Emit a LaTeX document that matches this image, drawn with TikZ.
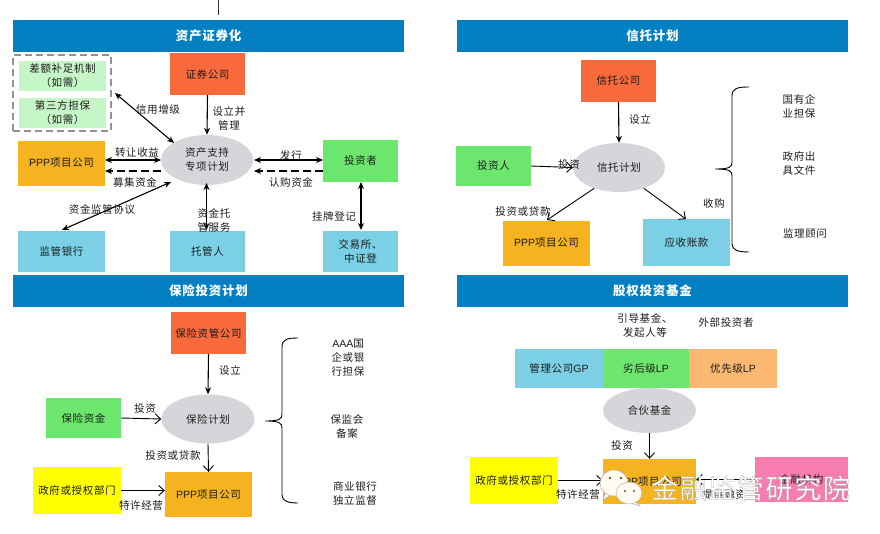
\documentclass[tikz,border=0pt]{standalone}
\usepackage{fontspec}
\setmainfont[LetterSpace=6]{Noto Sans CJK SC}
\newfontfamily\lat{Liberation Sans}
\usetikzlibrary{arrows.meta,shapes.geometric,calc}
\definecolor{hdr}{HTML}{0480C2}
\definecolor{red1}{HTML}{F8693C}
\definecolor{org1}{HTML}{F4B31F}
\definecolor{grn1}{HTML}{6DE66E}
\definecolor{blu1}{HTML}{7BD0E6}
\definecolor{lgr1}{HTML}{C6F5C8}
\definecolor{gry1}{HTML}{D6D6DA}
\definecolor{pnk1}{HTML}{F77DB0}
\definecolor{pch1}{HTML}{FBB873}
\definecolor{yel1}{HTML}{FFFF00}
\definecolor{txt1}{HTML}{1C1C1C}
\definecolor{crm1}{HTML}{FFFBEE}
\tikzset{
 x=1pt,y=-1pt,
 every node/.style={font=\fontsize{10.5}{14}\selectfont,text=txt1,align=center,inner sep=0pt},
 hd/.style={fill=hdr,text=white,font=\fontsize{12.5}{14}\selectfont\bfseries},
 ell/.style={ellipse,fill=gry1},
 ar/.style={-{Stealth[length=7pt,width=6pt]},line width=1.1pt,black},
 da/.style={{Stealth[length=7pt,width=6pt]}-{Stealth[length=7pt,width=6pt]},line width=1.1pt,black},
 op/.style={-{Straight Barb[length=5.5pt,width=10pt]},line width=0.9pt,black},
 das/.style={-{Stealth[length=7pt,width=6pt]},line width=1.1pt,black,dash pattern=on 8pt off 4pt},
 brc/.style={line width=0.9pt,black},
}
\begin{document}
\begin{tikzpicture}
\useasboundingbox (0,0) rectangle (880,533);
\fill[white] (0,0) rectangle (880,533);
\coordinate (topa) at (218,0); \coordinate (topb) at (218,15);
\draw[line width=0.9pt,black!80] (topa) -- (topb);
% headers
\node[hd,minimum width=391pt,minimum height=32pt] (h1) at (208.5,36) {资产证券化};
\node[hd,minimum width=391pt,minimum height=32pt] (h2) at (652.5,36) {信托计划};
\node[hd,minimum width=391pt,minimum height=32pt] (h3) at (208.5,291) {保险投资计划};
\node[hd,minimum width=391pt,minimum height=32pt] (h4) at (652.5,291) {股权投资基金};
% panel 1
\node[draw=gray!85,dash pattern=on 7pt off 4pt,line width=1.6pt,minimum width=98pt,minimum height=76pt] (dash) at (62,93) {};
\node[fill=lgr1,minimum width=87pt,minimum height=30pt] (g1) at (62.5,76) {差额补足机制\\（如需）};
\node[fill=lgr1,minimum width=87pt,minimum height=30pt] (g2) at (62.5,113) {第三方担保\\（如需）};
\node[fill=red1,minimum width=75pt,minimum height=42pt] (a1) at (207.5,74) {证券公司};
\node[ell,minimum width=92pt,minimum height=50pt] (e1) at (207,160) {资产支持\\专项计划};
\node[fill=org1,minimum width=87pt,minimum height=45pt] (a2) at (61.5,163) {{\lat PPP}项目公司};
\node[fill=grn1,minimum width=75pt,minimum height=42pt] (a3) at (360.5,161) {投资者};
\node[fill=blu1,minimum width=87pt,minimum height=41pt] (a4) at (61.5,251) {监管银行};
\node[fill=blu1,minimum width=75pt,minimum height=41pt] (a5) at (207.5,251) {托管人};
\node[fill=blu1,minimum width=75pt,minimum height=41pt] (a6) at (360.5,251) {交易所、\\中证登};
\coordinate (c1) at (115,93); \coordinate (c2) at (174,143);
\draw[da] (c1) -- (c2);
\draw[ar] (a1.south) -- (e1.north);
\coordinate (p1a) at (105,160); \coordinate (p1b) at (161,160);
\draw[da] (p1a) -- (p1b);
\coordinate (p2a) at (161,171); \coordinate (p2b) at (105,171);
\draw[das] (p2a) -- (p2b);
\coordinate (i1a) at (254,160); \coordinate (i1b) at (323,160);
\draw[da] (i1a) -- (i1b);
\coordinate (i2a) at (323,171); \coordinate (i2b) at (254,171);
\draw[das] (i2a) -- (i2b);
\coordinate (b1) at (171,182); \coordinate (b2) at (62,230);
\draw[da] (b1) -- (b2);
\coordinate (t1) at (206.5,183);\coordinate (t2) at (206.5,230);
\draw[da] (t1) -- (t2);
\coordinate (x1) at (361,182);\coordinate (x2) at (361,230);
\draw[da] (x1) -- (x2);
\node (l1) at (158,110) {信用增级};
\node (l2) at (229,118.5) {设立并\\管理};
\node (l3) at (137,153) {转让收益};
\node (l4) at (135,182) {募集资金};
\node (l5) at (102,209) {资金监管协议};
\node (l6) at (214,220.5) {资金托\\管服务};
\node (l7) at (291,156) {发行};
\node (l8) at (291,182) {认购资金};
\node (l9) at (334,217) {挂牌登记};
% panel 2
\node[fill=red1,minimum width=75pt,minimum height=42pt] (b1n) at (618.5,81) {信托公司};
\node[ell,minimum width=92pt,minimum height=49pt] (e2) at (619,167.5) {信托计划};
\node[fill=grn1,minimum width=75pt,minimum height=40pt] (b2n) at (493.5,166) {投资人};
\node[fill=org1,minimum width=87pt,minimum height=45pt] (b3n) at (546.5,243) {{\lat PPP}项目公司};
\node[fill=blu1,minimum width=87pt,minimum height=47pt] (b4n) at (686.5,242.5) {应收账款};
\draw[ar] (b1n.south) -- (e2.north);
\draw[op] (b2n.east) -- (e2.west);
\draw[op] (e2.220) -- (547,220);
\draw[op] (e2.320) -- (686,219);
\node (m1) at (640,119) {设立};
\node (m2) at (569,165) {投资};
\node (m3) at (523,212) {投资或贷款};
\node (m4) at (714,204) {收购};
\node (m5) at (799,106) {国有企\\业担保};
\node (m6) at (799,163) {政府出\\具文件};
\node (m7) at (805,234) {监理顾问};
\coordinate (bt) at (749,87);\coordinate (bb) at (749,252);\coordinate (bm) at (715,169);
\draw[brc] (bt) .. controls (738,87) and (732,88) .. (732,96) -- (732,162) .. controls (732,167) and (730,169) .. (bm) .. controls (730,169) and (732,171) .. (732,176) -- (732,244) .. controls (732,250) and (738,252) .. (bb);
% panel 3
\node[fill=red1,minimum width=75pt,minimum height=42pt] (c1n) at (208.5,333) {保险资管公司};
\node[ell,minimum width=93pt,minimum height=49pt] (e3) at (208,419) {保险计划};
\node[fill=grn1,minimum width=75pt,minimum height=40pt] (c2n) at (83.5,418) {保险资金};
\node[fill=yel1,minimum width=88pt,minimum height=47pt] (c3n) at (77,490.5) {政府或授权部门};
\node[fill=org1,minimum width=87pt,minimum height=45pt] (c4n) at (208.5,494.5) {{\lat PPP}项目公司};
\draw[ar] (c1n.south) -- (e3.north);
\draw[op] (c2n.east) -- (e3.west);
\draw[op] (e3.south) -- (c4n.north);
\draw[op] (c3n.east) -- (c4n.west |- c3n.east);
\node (n1) at (230,370) {设立};
\node (n2) at (145,409) {投资};
\node (n3) at (173,456) {投资或贷款};
\node (n4) at (141,506) {特许经营};
\node (n5) at (348,357.5) {{\lat AAA}国\\企或银\\行担保};
\node (n6) at (347,427) {保监会\\备案};
\node (n7) at (355,493.5) {商业银行\\独立监督};
\coordinate (ct) at (298,338);\coordinate (cb) at (298,503);\coordinate (cm) at (265,421);
\draw[brc] (ct) .. controls (288,338) and (282,339) .. (282,347) -- (282,414) .. controls (282,419) and (280,421) .. (cm) .. controls (280,421) and (282,423) .. (282,428) -- (282,495) .. controls (282,501) and (288,503) .. (cb);
% panel 4
\node[fill=blu1,minimum width=88pt,minimum height=39pt] (d1) at (559,368.5) {管理公司{\lat GP}};
\node[fill=grn1,minimum width=86pt,minimum height=39pt] (d2) at (646,368.5) {劣后级{\lat LP}};
\node[fill=pch1,minimum width=88pt,minimum height=39pt] (d3) at (733,368.5) {优先级{\lat LP}};
\node[ell,minimum width=93pt,minimum height=45pt] (e4) at (649.5,410.5) {合伙基金};
\node[fill=org1,minimum width=93pt,minimum height=45pt] (d4) at (649.5,481.5) {{\lat PPP}项目公司};
\node[fill=yel1,minimum width=88pt,minimum height=47pt] (d5) at (514,480.5) {政府或授权部门};
\node[fill=pnk1,minimum width=93pt,minimum height=45pt] (d6) at (801.5,479.5) {金融机构};
\draw[op] (e4.south) -- (d4.north);
\draw[op] (d5.east) -- (d4.west |- d5.east);
\draw[op] (d6.west) -- (d4.east |- d6.west);
\node (o1) at (645,325) {引导基金、\\发起人等};
\node (o2) at (726,322) {外部投资者};
\node (o3) at (622,446) {投资};
\node (o4) at (578,495) {特许经营};
\node (o5) at (724,495) {提供融资};
% watermark
\fill[crm1,draw=gray!60,line width=0.5pt] (606,491) -- (603,500) -- (612,494) -- cycle;
\node[ellipse,fill=crm1,draw=gray!60,line width=0.5pt,minimum width=28pt,minimum height=26pt] (w1) at (614,483) {};
\fill[crm1,draw=gray!60,line width=0.5pt] (634,500) -- (640,506) -- (630,503) -- cycle;
\node[ellipse,fill=crm1,draw=gray!60,line width=0.5pt,minimum width=26pt,minimum height=22pt] (w2) at (629,493) {};
\fill[black!65] (610,478) circle (1.3pt) (621,478) circle (1.3pt) (625,491) circle (1.2pt) (634,491) circle (1.2pt);
\node[text=white,anchor=west,font=\fontsize{27}{30}\selectfont] (wm) at (651,488) {\special{pdf:code 2 Tr 0.3 w 0.68 G}金融监管研究院\special{pdf:code 0 Tr}};
\end{tikzpicture}
\end{document}
